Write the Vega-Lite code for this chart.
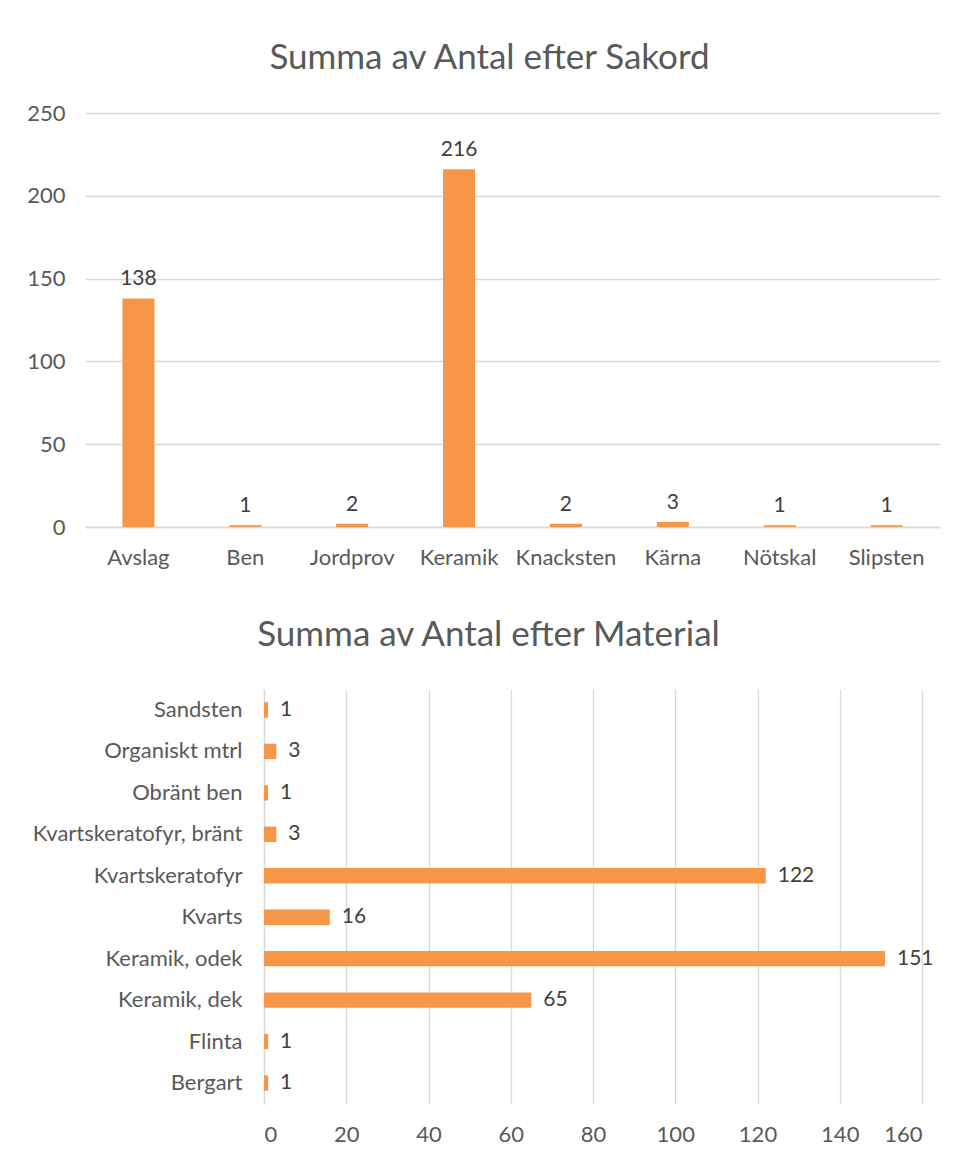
{
  "$schema": "https://vega.github.io/schema/vega-lite/v6.json",
  "padding": {"left": 18, "top": 41, "right": 5, "bottom": 5},
  "background": "white",
  "config": {
    "font": "Lato",
    "view": {"stroke": null},
    "axis": {"labelFont": "Lato", "labelColor": "#595959", "labelFontSize": 22, "labelLimit": 400, "title": null, "ticks": false, "gridColor": "#D9D9D9", "domainColor": "#D9D9D9", "gridWidth": 1.3, "domainWidth": 1.3},
    "title": {"font": "Lato", "fontSize": 35, "fontWeight": "normal", "color": "#595959"}
  },
  "spacing": 50,
  "vconcat": [
    {
      "title": {"text": "Summa av Antal efter Sakord", "dx": -23, "offset": 26},
      "width": 855,
      "height": 414,
      "data": {"values": [
        {"Sakord": "Avslag", "Antal": 138},
        {"Sakord": "Ben", "Antal": 1},
        {"Sakord": "Jordprov", "Antal": 2},
        {"Sakord": "Keramik", "Antal": 216},
        {"Sakord": "Knacksten", "Antal": 2},
        {"Sakord": "Kärna", "Antal": 3},
        {"Sakord": "Nötskal", "Antal": 1},
        {"Sakord": "Slipsten", "Antal": 1}
      ]},
      "encoding": {
        "x": {"field": "Sakord", "type": "nominal", "sort": ["Avslag", "Ben", "Jordprov", "Keramik", "Knacksten", "Kärna", "Nötskal", "Slipsten"],
          "scale": {"paddingInner": 0.7, "paddingOuter": 0.35},
          "axis": {"labelAngle": 0, "labelPadding": 20, "domain": true, "grid": false}},
        "y": {"field": "Antal", "type": "quantitative", "scale": {"domain": [0, 250], "nice": false},
          "axis": {"values": [0, 50, 100, 150, 200, 250], "domain": false, "grid": true, "labelPadding": 20, "minExtent": 67}}
      },
      "layer": [
        {"mark": {"type": "bar", "color": "#F79646"}},
        {"mark": {"type": "text", "baseline": "bottom", "dy": -9, "fontSize": 21, "color": "#404040", "font": "Lato"},
          "encoding": {"text": {"field": "Antal", "type": "quantitative"}}}
      ]
    },
    {
      "title": {"text": "Summa av Antal efter Material", "dx": -15, "offset": 36},
      "width": 837,
      "height": 415,
      "data": {"values": [
        {"Material": "Bergart", "Antal": 1},
        {"Material": "Flinta", "Antal": 1},
        {"Material": "Keramik, dek", "Antal": 65},
        {"Material": "Keramik, odek", "Antal": 151},
        {"Material": "Kvarts", "Antal": 16},
        {"Material": "Kvartskeratofyr", "Antal": 122},
        {"Material": "Kvartskeratofyr, bränt", "Antal": 3},
        {"Material": "Obränt ben", "Antal": 1},
        {"Material": "Organiskt mtrl", "Antal": 3},
        {"Material": "Sandsten", "Antal": 1}
      ]},
      "encoding": {
        "y": {"field": "Material", "type": "nominal",
          "sort": ["Sandsten", "Organiskt mtrl", "Obränt ben", "Kvartskeratofyr, bränt", "Kvartskeratofyr", "Kvarts", "Keramik, odek", "Keramik, dek", "Flinta", "Bergart"],
          "scale": {"paddingInner": 0.63, "paddingOuter": 0.32},
          "axis": {"labelPadding": 22, "domain": true, "grid": false, "offset": -179}},
        "x": {"field": "Antal", "type": "quantitative", "scale": {"domain": [0, 160], "nice": false, "range": [179, 837]},
          "axis": {"values": [0, 20, 40, 60, 80, 100, 120, 140, 160], "domain": false, "grid": true, "labelPadding": 20}}
      },
      "layer": [
        {"mark": {"type": "bar", "color": "#F79646"}},
        {"mark": {"type": "text", "align": "left", "dx": 12, "fontSize": 21, "color": "#404040", "font": "Lato"},
          "encoding": {"text": {"field": "Antal", "type": "quantitative"}}}
      ]
    }
  ]
}
